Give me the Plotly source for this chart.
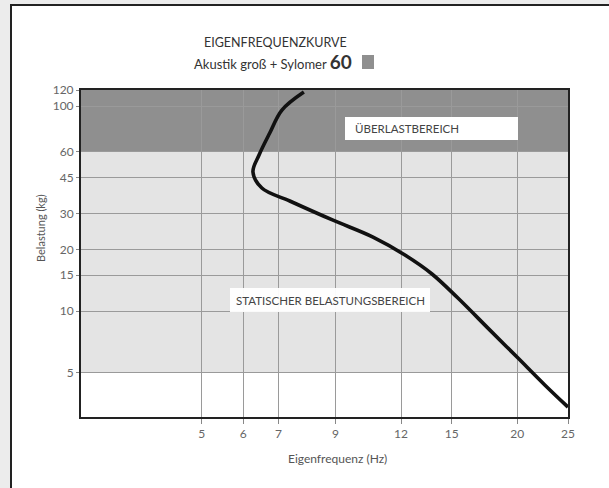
import numpy as np
import plotly.graph_objects as go

# Natural-frequency curve: frequency (Hz) against load (kg)
freq_hz = [7.83, 7.11, 6.74, 6.43, 6.26, 6.51, 7.36, 8.90, 10.61, 12.21, 13.75, 15.41, 17.74, 19.98, 22.6, 25.0]
load_kg = [117.3, 95.8, 74.0, 57.8, 47.8, 39.9, 34.5, 27.8, 23.0, 18.8, 15.2, 11.6, 8.09, 5.98, 4.36, 3.41]

x_ticks = [5, 6, 7, 9, 12, 15, 20, 25]
y_ticks = [5, 10, 15, 20, 30, 45, 60, 100, 120]

# Load zones (kg)
static_zone = [5, 60]
overload_zone = [60, 120]

x_range = [2.94, 25]
y_range = [3.05, 120]

FONT = "Lato"

# plot-area geometry in pixels (used to place page decorations)
W, H = 609, 488
L, R, T, B = 81, 41, 90, 71
pw, ph = W - L - R, H - T - B


def px(x):
    return (x - L) / pw


def py(y):
    return (H - B - y) / ph


fig = go.Figure()
fig.add_trace(go.Scatter(
    x=freq_hz, y=load_kg, mode="lines",
    line=dict(color="#111111", width=3.6, shape="spline", smoothing=1.0),
    hoverinfo="skip", showlegend=False,
))

shapes = [
    # white page panel with dark border
    dict(type="rect", xref="paper", yref="paper", layer="below",
         x0=px(11), x1=px(640), y0=py(5), y1=py(520),
         fillcolor="white", line=dict(color="#222222", width=2)),
    # static load zone
    dict(type="rect", xref="x", yref="y", layer="below",
         x0=x_range[0], x1=x_range[1], y0=static_zone[0], y1=static_zone[1],
         fillcolor="#e4e4e4", line=dict(width=0)),
    # overload zone
    dict(type="rect", xref="x", yref="y", layer="below",
         x0=x_range[0], x1=x_range[1], y0=overload_zone[0], y1=overload_zone[1],
         fillcolor="#8f8f8f", line=dict(width=0)),
    # label boxes
    dict(type="rect", xref="paper", yref="paper", layer="above",
         x0=px(345), x1=px(518), y0=py(140), y1=py(117),
         fillcolor="white", line=dict(width=0)),
    dict(type="rect", xref="paper", yref="paper", layer="above",
         x0=px(230), x1=px(430), y0=py(312), y1=py(288),
         fillcolor="white", opacity=0.95, line=dict(width=0)),
    # colour swatch next to the subtitle
    dict(type="rect", xref="paper", yref="paper",
         x0=px(362), x1=px(374), y0=py(69), y1=py(55),
         fillcolor="#8f8f8f", line=dict(width=0)),
]


def label(text, x, y, size, color="#444444", xanchor="center", angle=0):
    return dict(text=text, xref="paper", yref="paper",
                x=px(x), y=py(y), xanchor=xanchor, yanchor="middle",
                textangle=angle, showarrow=False,
                font=dict(family=FONT, size=size, color=color))


annotations = [
    label("EIGENFREQUENZKURVE", 275, 42, 12.5, "#333333"),
    label("Akustik groß + Sylomer <b><span style='font-size:19px'>60</span></b>",
          354, 61, 13, "#333333", xanchor="right"),
    label("ÜBERLASTBEREICH", 353, 128.5, 11.5, "#444444", xanchor="left"),
    label("STATISCHER BELASTUNGSBEREICH", 330, 300, 11.5, "#444444"),
    label("Belastung (kg)", 40, 228, 11, "#555555", angle=-90),
    label("Eigenfrequenz (Hz)", 337, 458, 12, "#555555"),
]

fig.update_layout(
    width=W, height=H,
    margin=dict(l=L, r=R, t=T, b=B, pad=0),
    paper_bgcolor="#ececec",
    plot_bgcolor="white",
    shapes=shapes,
    annotations=annotations,
    showlegend=False,
    font=dict(family=FONT, color="#666666"),
)

fig.update_xaxes(
    type="log", range=[np.log10(x_range[0]), np.log10(x_range[1])],
    tickmode="array", tickvals=x_ticks, ticktext=[str(v) for v in x_ticks],
    showgrid=True, gridcolor="#9a9a9a", gridwidth=1.3,
    showline=True, linecolor="#222222", linewidth=2, mirror=True,
    ticks="outside", ticklen=5, tickcolor="#888888",
    tickfont=dict(family=FONT, size=12, color="#666666"),
    zeroline=False,
)
fig.update_yaxes(
    type="log", range=[np.log10(y_range[0]), np.log10(y_range[1])],
    tickmode="array", tickvals=y_ticks, ticktext=[str(v) for v in y_ticks],
    showgrid=True, gridcolor="#9a9a9a", gridwidth=1.3,
    showline=True, linecolor="#222222", linewidth=2, mirror=True,
    ticks="outside", ticklen=3, tickcolor="#888888",
    tickfont=dict(family=FONT, size=12, color="#666666"),
    zeroline=False,
)

fig.write_html("out.html")
